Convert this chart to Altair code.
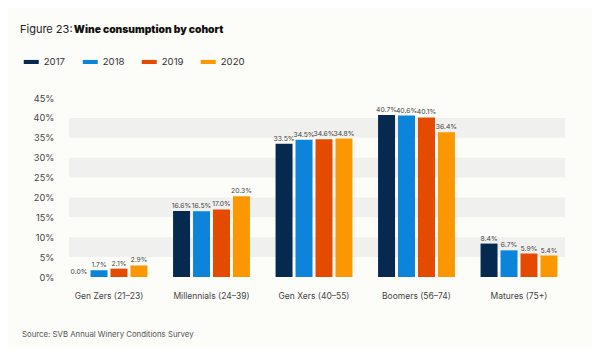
import altair as alt
import pandas as pd

cohorts = ["Gen Zers (21–23)", "Millennials (24–39)", "Gen Xers (40–55)", "Boomers (56–74)", "Matures (75+)"]
years = ["2017", "2018", "2019", "2020"]
v2017 = [0.0, 16.6, 33.5, 40.7, 8.4]
v2018 = [1.7, 16.5, 34.5, 40.6, 6.7]
v2019 = [2.1, 17.0, 34.6, 40.1, 5.9]
v2020 = [2.9, 20.3, 34.8, 36.4, 5.4]
colors = ["#06294f", "#0b84d9", "#e44a00", "#fb9700"]
band_lo = [5, 15, 25, 35]
band_hi = [10, 20, 30, 40]
y_ticks = [0, 5, 10, 15, 20, 25, 30, 35, 40, 45]

rows = []
for y, vals in zip(years, [v2017, v2018, v2019, v2020]):
    for c, v in zip(cohorts, vals):
        rows.append({"cohort": c, "year": y, "value": v, "label": f"{v:.1f}%"})
df = pd.DataFrame(rows)
bands = pd.DataFrame({"lo": band_lo, "hi": band_hi})

FONT = "Inter"
W, H = 512.5, 179
yscale = alt.Scale(domain=[0, 45], nice=False)
yaxis = alt.Axis(values=y_ticks, labelExpr="datum.value + '%'", labelOverlap=False,
                 domain=False, ticks=False, grid=False, labelPadding=4, title=None,
                 labelFontSize=9.2, labelColor="#444", labelFont=FONT)

bg = alt.Chart(bands).mark_rect(color="#f0f0ee").encode(
    x=alt.value(11.25), x2=alt.value(507.25),
    y=alt.Y("lo:Q", scale=yscale, axis=yaxis, title=None), y2="hi:Q",
)

xenc = alt.X("cohort:N", sort=cohorts, title=None,
             scale=alt.Scale(paddingInner=0.25, paddingOuter=0.125),
             axis=alt.Axis(labelAngle=0, domain=False, ticks=False, labelPadding=14,
                           labelFontSize=8.5, labelColor="#444", labelFont=FONT))
xoff = alt.XOffset("year:N", sort=years, scale=alt.Scale(paddingInner=0.15))

bars = alt.Chart(df).mark_bar().encode(
    x=xenc,
    xOffset=xoff,
    y=alt.Y("value:Q", scale=yscale, title=None, axis=yaxis),
    color=alt.Color("year:N", sort=years, title=None,
                    scale=alt.Scale(domain=years, range=colors),
                    legend=alt.Legend(orient="none", legendX=-34, legendY=-44,
                                      direction="horizontal",
                                      symbolType="M-1,-0.27H1V0.27H-1Z", symbolSize=225,
                                      symbolStrokeWidth=0, labelFontSize=9.6, labelColor="#333",
                                      labelFont=FONT, labelOffset=5, columnPadding=17)),
)

labels = alt.Chart(df).mark_text(baseline="bottom", dy=-2, fontSize=6.8, color="#444", font=FONT).encode(
    x=alt.X("cohort:N", sort=cohorts),
    xOffset=xoff,
    y=alt.Y("value:Q", scale=yscale, axis=yaxis, title=None),
    text="label:N",
)

t1 = alt.Chart(pd.DataFrame({"t": ["Figure 23:"]})).mark_text(
    align="left", baseline="alphabetic", fontSize=11, color="#222", font=FONT
).encode(x=alt.value(-37.75), y=alt.value(-65), text="t:N")
t2 = alt.Chart(pd.DataFrame({"t": ["Wine consumption by cohort"]})).mark_text(
    align="left", baseline="alphabetic", fontSize=10.3, fontWeight=900, color="#111", font=FONT
).encode(x=alt.value(16.0), y=alt.value(-65), text="t:N")
src = alt.Chart(pd.DataFrame({"t": ["Source: SVB Annual Winery Conditions Survey"]})).mark_text(
    align="left", baseline="alphabetic", fontSize=7.8, color="#555", font=FONT
).encode(x=alt.value(-35.75), y=alt.value(239), text="t:N")

chart = alt.layer(bg, bars, labels, t1, t2, src).properties(
    width=W, height=H,
    autosize=alt.AutoSizeParams(type="none"),
    padding={"left": 49.75, "top": 90, "right": 21.75, "bottom": 71},
    background="#fcfcf8",
).configure_view(stroke=None)

chart.save("out.html", embed_options={"renderer": "svg", "actions": False})
